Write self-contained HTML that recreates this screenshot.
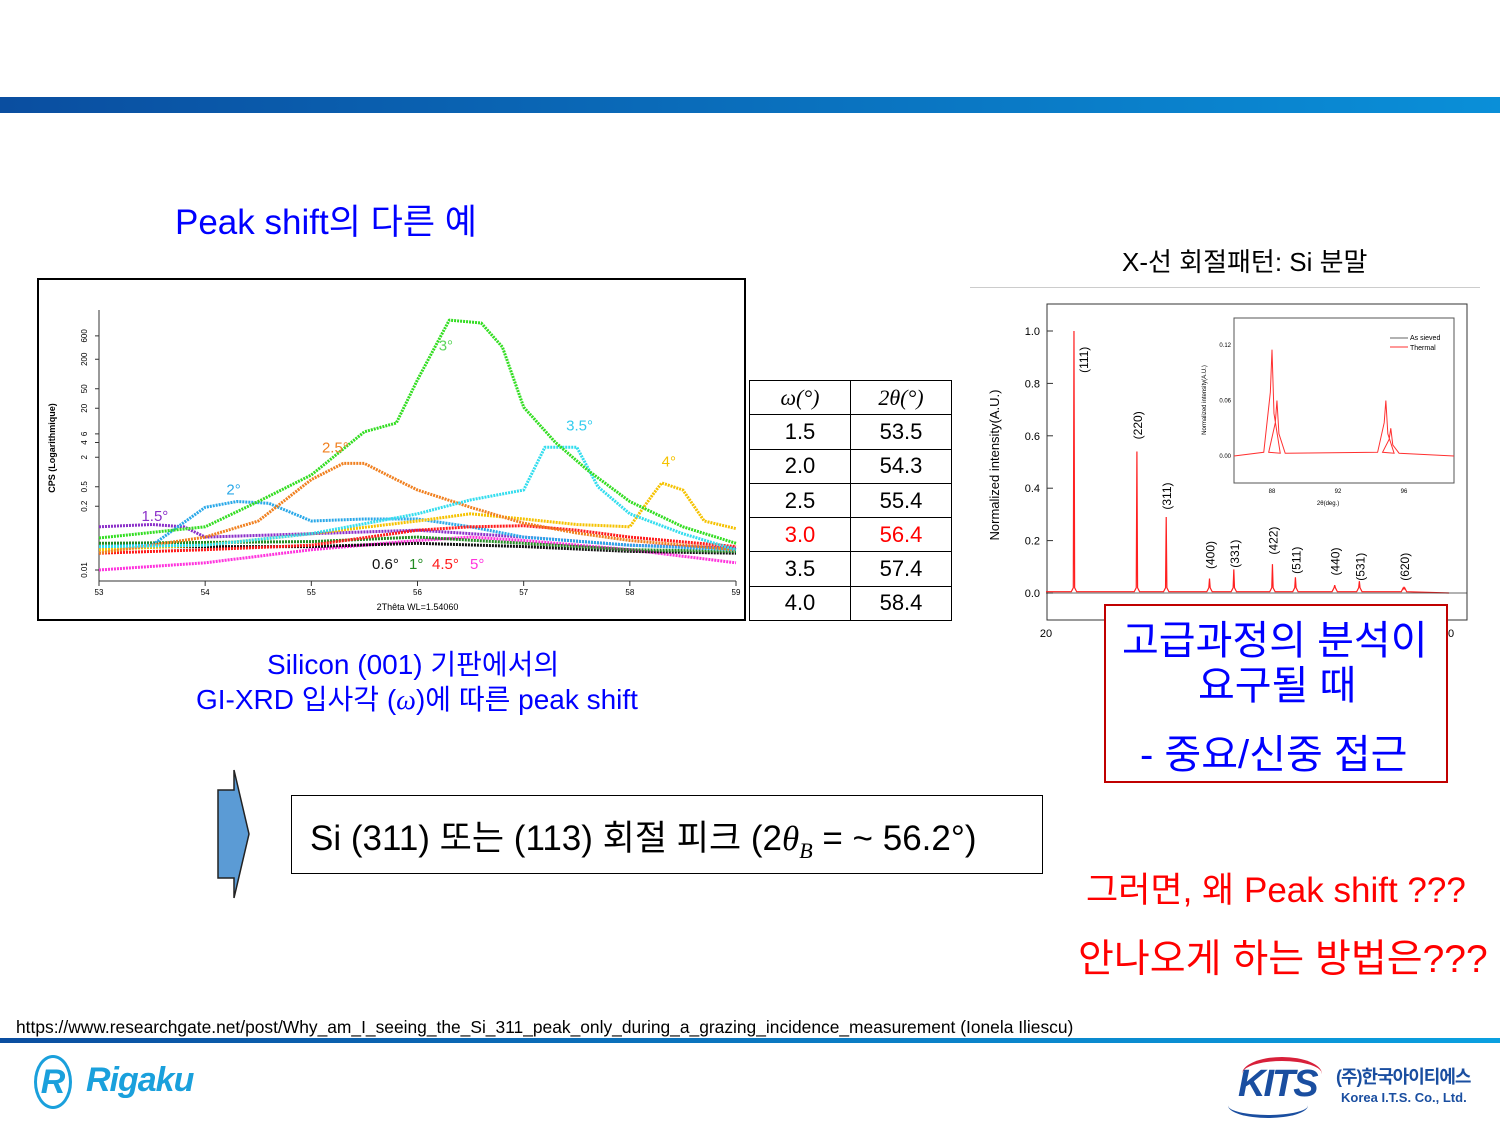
<!DOCTYPE html>
<html><head><meta charset="utf-8">
<style>
body{margin:0;width:1500px;height:1125px;position:relative;background:#fff;overflow:hidden;font-family:"Liberation Sans","Noto Sans CJK KR",sans-serif;}
.abs{position:absolute;white-space:nowrap;}
.blue{color:#0000ff;}
.red{color:#ff0000;}
table{border-collapse:collapse;}
td{border:1px solid #000;width:100px;height:33.3px;text-align:center;font-size:22px;padding:0;}
</style></head><body>
<div class="abs" style="left:0;top:97px;width:1500px;height:16px;background:linear-gradient(90deg,#0a4ea0,#0a8fd8);"></div>
<div class="abs blue" style="left:175px;top:194px;font-size:35px;">Peak shift의 다른 예</div>
<div class="abs" style="left:1122px;top:242px;font-size:26px;">X-선 회절패턴: Si 분말</div>
<div class="abs" style="left:970px;top:287px;width:510px;height:1px;background:#ccc;"></div>

<svg class="abs" style="left:37px;top:278px;" width="709" height="343" id="left"></svg>

<table class="abs" style="left:749px;top:380px;font-family:'Liberation Sans',sans-serif;">
<tr><td style="font-style:italic;font-family:'Liberation Serif',serif;">ω(°)</td><td style="font-style:italic;font-family:'Liberation Serif',serif;">2θ(°)</td></tr>
<tr><td>1.5</td><td>53.5</td></tr>
<tr><td>2.0</td><td>54.3</td></tr>
<tr><td>2.5</td><td>55.4</td></tr>
<tr class="red"><td>3.0</td><td>56.4</td></tr>
<tr><td>3.5</td><td>57.4</td></tr>
<tr><td>4.0</td><td>58.4</td></tr>
</table>

<svg class="abs" style="left:970px;top:295px;" width="510" height="350" id="right"></svg>

<div class="abs blue" style="left:267px;top:643px;font-size:28px;">Silicon (001) 기판에서의</div>
<div class="abs blue" style="left:196px;top:678px;font-size:28px;">GI-XRD 입사각 (<i style="font-family:'Liberation Serif',serif">ω</i>)에 따른 peak shift</div>

<svg class="abs" style="left:215px;top:768px;" width="40" height="132"><polygon points="3,22 19,22 19,2 34,66 19,130 19,110 3,110" fill="#5b9bd5" stroke="#222" stroke-width="1.5"/></svg>
<div class="abs" style="left:291px;top:795px;width:750px;height:77px;border:1.5px solid #000;"></div>
<div class="abs" style="left:310px;top:810px;font-size:35px;">Si (311) 또는 (113) 회절 피크 (2<i style="font-family:'Liberation Serif',serif">θ<sub style="font-size:22px">B</sub></i> = ~ 56.2°)</div>

<div class="abs" style="left:1104px;top:604px;width:340px;height:175px;border:2px solid #c00000;background:#fff;"></div>
<div class="abs blue" style="left:1122px;top:608px;font-size:40px;">고급과정의 분석이</div>
<div class="abs blue" style="left:1198px;top:653px;font-size:40px;">요구될 때</div>
<div class="abs blue" style="left:1140px;top:722px;font-size:40px;">- 중요/신중 접근</div>

<div class="abs red" style="left:1086px;top:862px;font-size:35px;">그러면, 왜 Peak shift ???</div>
<div class="abs red" style="left:1078px;top:928px;font-size:39px;">안나오게 하는 방법은???</div>

<div class="abs" style="left:16px;top:1017px;font-size:17.4px;">https://www.researchgate.net/post/Why_am_I_seeing_the_Si_311_peak_only_during_a_grazing_incidence_measurement (Ionela Iliescu)</div>
<div class="abs" style="left:0;top:1038px;width:1500px;height:5px;background:linear-gradient(90deg,#0a4ea0,#0aa0e0);"></div>
<div class="abs" style="left:34px;top:1055px;">
<div style="position:absolute;left:0;top:0;width:38px;height:54px;border:3px solid #1aa0dc;border-radius:50%;box-sizing:border-box;color:#1aa0dc;font-size:34px;font-weight:bold;text-align:center;line-height:48px;font-style:italic;">R</div>
<div style="position:absolute;left:52px;top:6px;color:#1aa0dc;font-size:34px;font-weight:bold;font-style:italic;letter-spacing:-1px;">Rigaku</div></div>
<div class="abs" style="left:1228px;top:1055px;width:245px;height:62px;">
<div style="position:absolute;left:14px;top:2px;width:80px;height:30px;border-top:4px solid #d8203a;border-radius:50% 50% 0 0;"></div>
<div style="position:absolute;left:10px;top:8px;color:#1a4ea0;font-size:38px;font-weight:bold;font-style:italic;letter-spacing:-2px;">KITS</div>
<div style="position:absolute;left:0;top:38px;width:80px;height:22px;border-bottom:3px solid #1a4ea0;border-radius:0 0 50% 50%;"></div>
<div style="position:absolute;left:108px;top:8px;color:#1a4ea0;font-size:18px;font-weight:bold;letter-spacing:-1px;">(주)한국아이티에스</div>
<div style="position:absolute;left:113px;top:35px;color:#1a4ea0;font-size:13px;font-weight:bold;">Korea I.T.S. Co., Ltd.</div></div>

<script>
// ---- Left chart data (CPS, log scale) ----
const green3x = [53,54,54.5,55,55.5,55.8,56,56.3,56.6,56.8,57,57.3,57.6,58,58.5,59];
const green3 = [0.045,0.076,0.25,0.87,6.6,10,76,1260,1100,355,21,4,1.1,0.25,0.076,0.035];
const orange25x = [53,54,54.5,55,55.3,55.5,55.8,56,56.5,57,57.5,58,59];
const orange25 = [0.022,0.047,0.1,0.7,1.5,1.5,0.7,0.43,0.19,0.09,0.057,0.04,0.026];
const cyan35x = [53,54,55,56,56.5,57,57.2,57.5,57.7,58,58.5,59];
const cyan35 = [0.03,0.032,0.055,0.14,0.27,0.43,3.2,3.2,0.5,0.14,0.055,0.026];
const blue2x = [53,53.5,54,54.3,54.6,55,55.5,56,56.5,57,58,59];
const blue2 = [0.03,0.032,0.19,0.25,0.23,0.1,0.11,0.11,0.076,0.047,0.032,0.026];
const purple15x = [53,53.5,53.8,54,55,56,57,58,59];
const purple15 = [0.076,0.085,0.076,0.047,0.055,0.065,0.047,0.032,0.028];
const yellow4x = [53,54,55,56,56.5,57,57.5,58,58.2,58.3,58.5,58.7,59];
const yellow4 = [0.026,0.032,0.055,0.1,0.14,0.11,0.085,0.076,0.31,0.6,0.43,0.1,0.07];
const red45x = [53,54,55,56,56.5,57,57.5,58,59];
const red45 = [0.022,0.026,0.032,0.065,0.076,0.08,0.065,0.047,0.03];
const black06x = [53,55,56,57,58,59];
const black06 = [0.03,0.03,0.035,0.03,0.024,0.022];
const dgreen1x = [53,55,56,57,58,59];
const dgreen1 = [0.035,0.038,0.047,0.035,0.026,0.024];
const magenta5x = [53,54,55,56,56.5,57,58,59];
const magenta5 = [0.01,0.014,0.026,0.04,0.047,0.04,0.026,0.014];
const xTicks = [53,54,55,56,57,58,59];
const yTicks = [0.01,0.2,0.5,2,4,6,20,50,200,600];
const yTickLabels = ["0.01","0.2","0.5","2","4","6","20","50","200","600"];
const seriesLabels = [["1.5°",53.4,0.1,"#8b2fc9"],["2°",54.2,0.35,"#2aa8e8"],["2.5°",55.1,2.5,"#f08020"],["3°",56.2,300,"#5bd65b"],["3.5°",57.4,7,"#33ccee"],["4°",58.3,1.3,"#f5c200"]];

const NS="http://www.w3.org/2000/svg";
function mk(svg,tag,attrs,name){const e=document.createElementNS(NS,tag);for(const k in attrs)e.setAttribute(k,attrs[k]);


svg.appendChild(e);return e;}

const L=document.getElementById('left');
mk(L,'rect',{x:1,y:1,width:707,height:341,fill:'#fff',stroke:'#000','stroke-width':2},'chart-frame');
const X0=62,X1=699,YB=292;
const xs=v=>X0+(v-53)/(59-53)*(X1-X0);
const ys=v=>YB-(Math.log10(v)+2)*49;
mk(L,'line',{x1:X0,y1:32,x2:X0,y2:303,stroke:'#333'},'y-axis');
mk(L,'line',{x1:X0,y1:303,x2:X1,y2:303,stroke:'#333'},'x-axis');
xTicks.forEach(t=>{mk(L,'line',{x1:xs(t),y1:303,x2:xs(t),y2:308,stroke:'#333'},'x-tick');
const tx=mk(L,'text',{x:xs(t),y:317,'font-size':8,'text-anchor':'middle','font-family':'Liberation Sans'},'x-tick-label');tx.textContent=t;});
yTicks.forEach((t,i)=>{mk(L,'line',{x1:X0-4,y1:ys(t),x2:X0,y2:ys(t),stroke:'#333'},'y-tick');
const tx=mk(L,'text',{x:0,y:0,'font-size':8,'text-anchor':'middle','font-family':'Liberation Sans',transform:`translate(${X0-12},${ys(t)}) rotate(-90)`},'y-tick-label');tx.textContent=yTickLabels[i];});
let t=mk(L,'text',{x:0,y:0,'font-size':9,'text-anchor':'middle','font-weight':'bold','font-family':'Liberation Sans',transform:`translate(18,170) rotate(-90)`},'y-axis-title');t.textContent='CPS (Logarithmique)';
t=mk(L,'text',{x:(X0+X1)/2,y:332,'font-size':9,'text-anchor':'middle','font-family':'Liberation Sans'},'x-axis-title');t.textContent='2Thêta WL=1.54060';
function series(xa,ya,col,name){const d=xa.map((x,i)=>(i?'L':'M')+xs(x).toFixed(1)+','+ys(ya[i]).toFixed(1)).join(' ');
mk(L,'path',{d:d,fill:'none',stroke:col,'stroke-width':3,'stroke-dasharray':'2 1','stroke-linejoin':'round'},name);}
series(magenta5x,magenta5,'#ff33dd','series-5deg');
series(black06x,black06,'#111','series-0.6deg');
series(dgreen1x,dgreen1,'#228b22','series-1deg');
series(purple15x,purple15,'#8b2fc9','series-1.5deg');
series(blue2x,blue2,'#2aa8e8','series-2deg');
series(yellow4x,yellow4,'#f5c200','series-4deg');
series(red45x,red45,'#ff1a1a','series-4.5deg');
series(orange25x,orange25,'#f08020','series-2.5deg');
series(cyan35x,cyan35,'#33ddee','series-3.5deg');
series(green3x,green3,'#33dd22','series-3deg');
seriesLabels.forEach(s=>{const e=mk(L,'text',{x:xs(s[1]),y:ys(s[2]),'font-size':15,fill:s[3],'font-family':'Liberation Sans'},'series-label');e.textContent=s[0];});
[["0.6°","#111",335],["1°","#228b22",372],["4.5°","#ff1a1a",395],["5°","#ff33dd",433]].forEach(s=>{const e=mk(L,'text',{x:s[2],y:291,'font-size':15,fill:s[1],'font-family':'Liberation Sans'},'series-label');e.textContent=s[0];});

// ---- Right chart data ----
const peakPos = [28.4,47.3,56.1,69.1,76.4,88.0,94.9,106.7,114.1,127.5];
const peakHeight = [1.0,0.54,0.29,0.055,0.09,0.11,0.06,0.03,0.045,0.015];
const peakLabels = ["(111)","(220)","(311)","(400)","(331)","(422)","(511)","(440)","(531)","(620)"];
const peakLabelLevel = [0.89,0.64,0.37,0.145,0.15,0.2,0.125,0.12,0.1,0.1];
const rTicks = [0,0.2,0.4,0.6,0.8,1.0];
const insetPeakPos = [88.0,88.3,94.9,95.2];
const insetPeakHeight = [0.115,0.06,0.06,0.03];
const insetXTicks = [88,92,96];
const insetYTicks = [0,0.06,0.12];

const R=document.getElementById('right');
const rx=v=>76+(v-20)*3.33, ry=v=>298-v*262;
mk(R,'rect',{x:77,y:9,width:420,height:316,fill:'#fff',stroke:'#333','stroke-width':1},'plot-frame');
rTicks.forEach(v=>{mk(R,'line',{x1:77,y1:ry(v),x2:83,y2:ry(v),stroke:'#333'},'y-tick');
const e=mk(R,'text',{x:70,y:ry(v)+4,'font-size':11,'text-anchor':'end','font-family':'Liberation Sans'},'y-tick-label');e.textContent=v.toFixed(1);});
t=mk(R,'text',{x:0,y:0,'font-size':13,'text-anchor':'middle','font-family':'Liberation Sans',transform:'translate(29,170) rotate(-90)'},'y-axis-title');t.textContent='Normalized intensity(A.U.)';
t=mk(R,'text',{x:76,y:342,'font-size':11,'text-anchor':'middle','font-family':'Liberation Sans'},'x-tick-label');t.textContent='20';
t=mk(R,'text',{x:481,y:342,'font-size':11,'text-anchor':'middle','font-family':'Liberation Sans'},'x-tick-label');t.textContent='0';
let d='M'+rx(20)+','+ry(0.005);
peakPos.forEach((p,i)=>{d+=` L${rx(p-0.8)},${ry(0.005)} L${rx(p-0.2)},${ry(0.02)} L${rx(p)},${ry(peakHeight[i])} L${rx(p+0.2)},${ry(0.02)} L${rx(p+0.8)},${ry(0.005)}`;});
d+=` L${rx(141)},${ry(0)}`;
mk(R,'path',{d:d,fill:'none',stroke:'#ff2020','stroke-width':1.2},'diffraction-pattern');
mk(R,'line',{x1:rx(20),y1:ry(0),x2:497,y2:ry(0),stroke:'#333','stroke-width':0.8},'baseline');
peakPos.forEach((p,i)=>{const off=i===0?14:5;const e=mk(R,'text',{x:0,y:0,'font-size':12,'text-anchor':'middle','font-family':'Liberation Sans',transform:`translate(${rx(p)+off},${ry(peakLabelLevel[i])}) rotate(-90)`},'peak-label');e.textContent=peakLabels[i];});
// inset
const ix=v=>302+(v-88)*16.5, iy=v=>161-v*925;
mk(R,'rect',{x:264,y:23,width:220,height:165,fill:'#fff',stroke:'#555'},'inset-frame');
insetXTicks.forEach(v=>{const e=mk(R,'text',{x:ix(v),y:198,'font-size':6,'text-anchor':'middle','font-family':'Liberation Sans'},'inset-x-tick');e.textContent=v;});
insetYTicks.forEach(v=>{const e=mk(R,'text',{x:261,y:iy(v)+2,'font-size':6,'text-anchor':'end','font-family':'Liberation Sans'},'inset-y-tick');e.textContent=v.toFixed(2);});
t=mk(R,'text',{x:ix(91.4),y:210,'font-size':6,'text-anchor':'middle','font-family':'Liberation Sans'},'inset-x-title');t.textContent='2θ(deg.)';
t=mk(R,'text',{x:0,y:0,'font-size':6,'text-anchor':'middle','font-family':'Liberation Sans',transform:'translate(236,105) rotate(-90)'},'inset-y-title');t.textContent='Normalized intensity(A.U.)';
let di='M264,'+iy(0);
insetPeakPos.forEach((p,i)=>{di+=` L${ix(p-0.5)},${iy(0.004)} L${ix(p-0.1)},${iy(insetPeakHeight[i]*0.6)} L${ix(p)},${iy(insetPeakHeight[i])} L${ix(p+0.12)},${iy(insetPeakHeight[i]*0.4)} L${ix(p+0.5)},${iy(0.003)}`;});
di+=' L484,'+iy(0);
mk(R,'path',{d:di,fill:'none',stroke:'#ff3030','stroke-width':1},'inset-pattern');
mk(R,'line',{x1:420,y1:43,x2:438,y2:43,stroke:'#666'},'legend-as-sieved-line');
mk(R,'line',{x1:420,y1:52,x2:438,y2:52,stroke:'#ff3030'},'legend-thermal-line');
t=mk(R,'text',{x:440,y:45,'font-size':7,'font-family':'Liberation Sans'},'legend-as-sieved');t.textContent='As sieved';
t=mk(R,'text',{x:440,y:55,'font-size':7,'font-family':'Liberation Sans'},'legend-thermal');t.textContent='Thermal';
</script>
</body></html>
